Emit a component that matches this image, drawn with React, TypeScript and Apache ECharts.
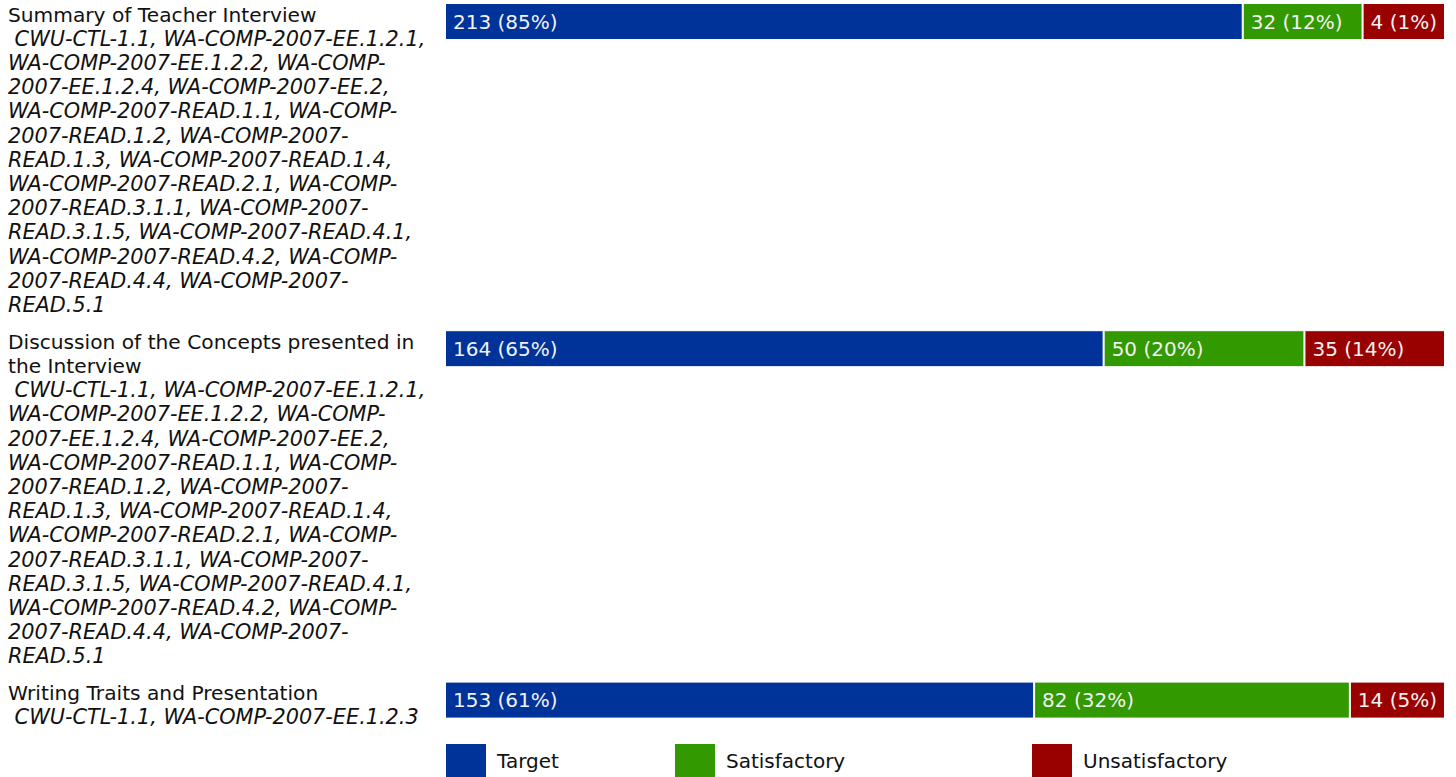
import React, { useEffect, useRef } from "react";
import * as echarts from "echarts";

// ---- data ----
const statuses = ["Target", "Satisfactory", "Unsatisfactory"];
const statusColors = ["#003399", "#339900", "#990000"];

const titleLines = [
  ["Summary of Teacher Interview"],
  ["Discussion of the Concepts presented in", "the Interview"],
  ["Writing Traits and Presentation"],
];

const longStandards = [
  " CWU-CTL-1.1, WA-COMP-2007-EE.1.2.1,",
  "WA-COMP-2007-EE.1.2.2, WA-COMP-",
  "2007-EE.1.2.4, WA-COMP-2007-EE.2,",
  "WA-COMP-2007-READ.1.1, WA-COMP-",
  "2007-READ.1.2, WA-COMP-2007-",
  "READ.1.3, WA-COMP-2007-READ.1.4,",
  "WA-COMP-2007-READ.2.1, WA-COMP-",
  "2007-READ.3.1.1, WA-COMP-2007-",
  "READ.3.1.5, WA-COMP-2007-READ.4.1,",
  "WA-COMP-2007-READ.4.2, WA-COMP-",
  "2007-READ.4.4, WA-COMP-2007-",
  "READ.5.1",
];
const standardLines = [longStandards, longStandards, [" CWU-CTL-1.1, WA-COMP-2007-EE.1.2.3"]];

const targetCounts = [213, 164, 153];
const satisfactoryCounts = [32, 50, 82];
const unsatisfactoryCounts = [4, 35, 14];
const targetPct = [85, 65, 61];
const satisfactoryPct = [12, 20, 32];
const unsatisfactoryPct = [1, 14, 5];

// ---- layout constants ----
const FONT = "'DejaVu Sans', Verdana, sans-serif";
const FS = 20;
const TITLE_FS = 20.2;
const STD_FS = 20.8;
const LINE_H = 24.2;
const ROW_GAP = 12.6;
const FIRST_TOP = 3;
const BAR_H = 37;
const GRID_LEFT = 445;
const GRID_W = 1000;
const LABEL_PAD = 8;

function measure(text: string): number {
  const c = document.createElement("canvas").getContext("2d");
  if (!c) return text.length * 11;
  c.font = `${FS}px ${FONT}`;
  return c.measureText(text).width;
}

// mimic the HTML table cells: each segment at least as wide as its label,
// the rest shared in proportion to the counts
function segmentShares(counts: number[], labels: string[]): number[] {
  const minPx = labels.map((l) => measure(l) + LABEL_PAD * 2);
  const fixed = counts.map(() => false);
  let widths = counts.map(() => 0);
  for (let iter = 0; iter < 4; iter++) {
    const freeSum = counts.reduce((a, v, i) => a + (fixed[i] ? 0 : v), 0);
    const fixedPx = minPx.reduce((a, v, i) => a + (fixed[i] ? v : 0), 0);
    const avail = GRID_W - fixedPx;
    let changed = false;
    widths = counts.map((v, i) => {
      if (fixed[i]) return minPx[i];
      const w = (v / freeSum) * avail;
      if (w < minPx[i]) {
        fixed[i] = true;
        changed = true;
      }
      return w;
    });
    if (!changed) break;
  }
  return widths.map((w) => w / GRID_W);
}

export default function App() {
  const ref = useRef<HTMLDivElement>(null);

  useEffect(() => {
    if (!ref.current) return;
    const chart = echarts.init(ref.current, undefined, { renderer: "svg" });

    const countsBy = [targetCounts, satisfactoryCounts, unsatisfactoryCounts];
    const pctBy = [targetPct, satisfactoryPct, unsatisfactoryPct];

    const rowTops: number[] = [];
    let top = FIRST_TOP;
    titleLines.forEach((t, r) => {
      rowTops.push(top);
      top += (t.length + standardLines[r].length) * LINE_H + ROW_GAP;
    });

    const grids: any[] = [];
    const xAxes: any[] = [];
    const yAxes: any[] = [];
    const series: any[] = [];
    const graphics: any[] = [];

    titleLines.forEach((t, r) => {
      grids.push({ left: GRID_LEFT, width: GRID_W, top: rowTops[r], height: BAR_H });
      xAxes.push({ type: "value", gridIndex: r, min: 0, max: 1, show: false });
      yAxes.push({ type: "category", gridIndex: r, data: [t.join(" ")], show: false });

      const counts = statuses.map((_, s) => countsBy[s][r]);
      const labels = statuses.map((_, s) => `${countsBy[s][r]} (${pctBy[s][r]}%)`);
      const shares = segmentShares(counts, labels);

      statuses.forEach((name, s) => {
        series.push({
          type: "bar",
          name,
          stack: "row" + r,
          xAxisIndex: r,
          yAxisIndex: r,
          barWidth: "100%",
          itemStyle: { color: statusColors[s], borderColor: "#ffffff", borderWidth: 1 },
          label: {
            show: true,
            position: "insideLeft",
            distance: LABEL_PAD,
            color: "#f2f2f2",
            fontFamily: FONT,
            fontSize: FS,
            formatter: () => labels[s],
          },
          data: [{ value: shares[s], count: counts[s] }],
        });
      });

      const textLines = [
        ...t.map((l) => `{t|${l}}`),
        ...standardLines[r].map((l) => `{s|${l}}`),
      ];
      graphics.push({
        type: "text",
        x: 8,
        y: rowTops[r] - 0.5,
        style: {
          text: textLines.join("\n"),
          verticalAlign: "top",
          rich: {
            t: { fontFamily: FONT, fontSize: TITLE_FS, lineHeight: LINE_H, fill: "#111111" },
            s: {
              fontFamily: FONT,
              fontSize: STD_FS,
              fontStyle: "italic",
              lineHeight: LINE_H,
              fill: "#111111",
            },
          },
        },
      });
    });

    const legendLefts = [444, 673, 1030];
    const legends = statuses.map((name, s) => ({
      data: [name],
      left: legendLefts[s],
      top: 742,
      padding: 0,
      icon: "rect",
      itemWidth: 42,
      itemHeight: 36,
      selectedMode: false,
      textStyle: {
        fontFamily: FONT,
        fontSize: FS,
        color: "#111111",
        padding: [0, 0, 0, 5],
      },
    }));

    chart.setOption({
      animation: false,
      backgroundColor: "#ffffff",
      grid: grids,
      xAxis: xAxes,
      yAxis: yAxes,
      legend: legends,
      series,
      graphic: graphics,
    });

    return () => chart.dispose();
  }, []);

  return (
    <div
      ref={ref}
      style={{ position: "absolute", left: 0, top: 0, width: 1456, height: 777 }}
    />
  );
}
